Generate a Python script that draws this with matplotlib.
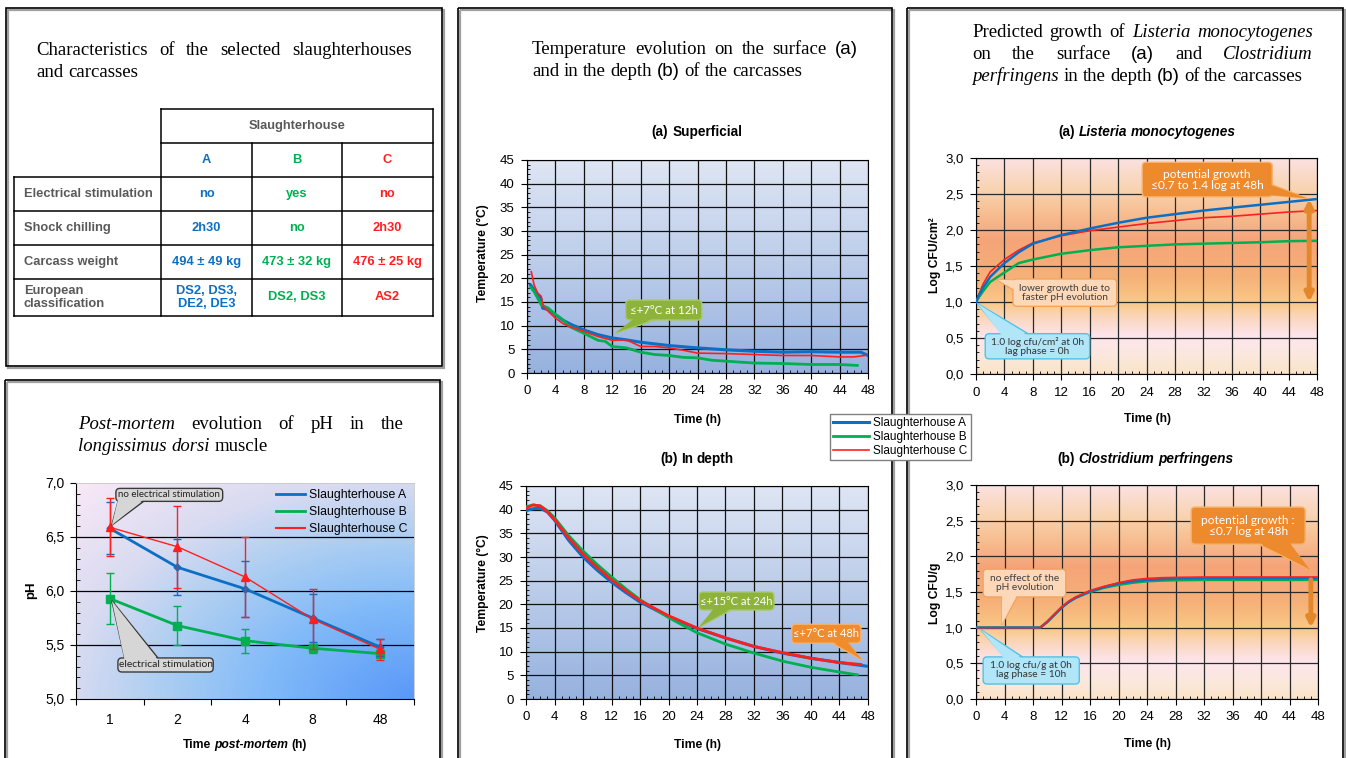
import numpy as np
import matplotlib
matplotlib.use("Agg")
import matplotlib.pyplot as plt
from matplotlib.patches import Rectangle, FancyBboxPatch, Polygon
from matplotlib.lines import Line2D
from matplotlib.colors import LinearSegmentedColormap
from matplotlib.ticker import MultipleLocator, FuncFormatter

plt.rcParams["font.family"] = ["Liberation Sans", "DejaVu Sans"]

W, H = 1346, 758
SERIF = ["Liberation Serif", "DejaVu Serif"]
CALLOUT_FONT = ["Lato", "DejaVu Sans"]

# series names and colours
names = ["Slaughterhouse A", "Slaughterhouse B", "Slaughterhouse C"]
colors = ["#0b6fc4", "#00b050", "#ff1f1f"]

# table of characteristics
table_cols = ["A", "B", "C"]
row_labels = ["Electrical stimulation", "Shock chilling", "Carcass weight", "European\nclassification"]
col_A = ["no", "2h30", "494 ± 49 kg", "DS2, DS3,\nDE2, DE3"]
col_B = ["yes", "no", "473 ± 32 kg", "DS2, DS3"]
col_C = ["no", "2h30", "476 ± 25 kg", "AS2"]

# pH post-mortem
ph_times = ["1", "2", "4", "8", "48"]
ph_A = [6.58, 6.22, 6.02, 5.75, 5.48]
ph_A_err = [0.24, 0.26, 0.26, 0.22, 0.08]
ph_B = [5.93, 5.68, 5.54, 5.47, 5.42]
ph_B_err = [0.24, 0.18, 0.11, 0.04, 0.03]
ph_C = [6.59, 6.41, 6.13, 5.74, 5.46]
ph_C_err = [0.27, 0.38, 0.37, 0.28, 0.10]

# surface temperature (a)
surf_t_A = [0.5, 1, 1.5, 1.9, 2.2, 3, 4, 5, 6.3, 8, 10, 12, 14, 16, 20, 24, 28, 32, 36, 40, 44, 47, 48]
surf_A = [18.6, 17.6, 16.6, 16.0, 13.7, 13.4, 12.3, 11.2, 10.2, 9.1, 8.1, 7.4, 7.0, 6.5, 5.8, 5.3, 4.9, 4.6, 4.4, 4.5, 4.4, 4.4, 3.7]
surf_t_B = [0.5, 1, 2, 3, 4, 5, 6, 8, 10, 11, 12, 14, 16, 18, 20, 22, 24, 26, 28, 32, 36, 40, 44, 46.5]
surf_B = [18.1, 17.2, 14.4, 13.7, 12.4, 11.3, 9.8, 8.4, 6.9, 6.7, 5.6, 5.3, 4.4, 3.9, 3.7, 3.3, 3.2, 2.7, 2.5, 2.1, 2.0, 1.8, 1.8, 1.6]
surf_t_C = [0.6, 1, 1.5, 2, 2.3, 3, 4, 5, 6, 8, 10, 12, 14, 15, 16, 18, 20, 22, 24, 28, 32, 36, 40, 44, 46, 47.5]
surf_C = [21.4, 18.6, 16.9, 16.2, 14.1, 13.0, 11.6, 10.5, 9.8, 8.8, 7.7, 6.9, 7.0, 6.3, 5.6, 5.6, 5.3, 4.8, 4.2, 4.1, 3.9, 3.7, 3.7, 3.4, 3.4, 3.7]

# depth temperature (b)
depth_t_A = [0, 1, 2, 3, 4, 6, 8, 10, 12, 14, 16, 20, 24, 28, 32, 36, 40, 44, 48]
depth_A = [39.8, 40.2, 40.3, 39.5, 37.8, 33.5, 30.0, 27.2, 24.7, 22.5, 20.5, 17.4, 14.9, 12.9, 11.1, 9.7, 8.6, 7.7, 6.9]
depth_t_B = [0, 1, 2, 3, 4, 6, 8, 10, 12, 14, 16, 20, 24, 28, 32, 36, 40, 44, 46.5]
depth_B = [40.6, 41.0, 40.8, 39.8, 38.3, 34.5, 31.3, 28.4, 25.8, 23.3, 21.0, 17.2, 14.0, 11.6, 9.7, 8.0, 6.7, 5.7, 5.1]
depth_t_C = [0, 1, 2, 3, 4, 6, 8, 10, 12, 14, 16, 20, 24, 28, 32, 36, 40, 44, 47]
depth_C = [40.3, 41.0, 40.8, 39.6, 38.0, 34.0, 30.7, 27.8, 25.2, 22.9, 20.8, 17.6, 15.0, 12.9, 11.1, 9.8, 8.6, 7.7, 7.3]

# predicted growth of listeria on the surface (a)
list_t = [0, 0.5, 1, 2, 4, 6, 8, 12, 16, 20, 24, 28, 32, 36, 40, 44, 48]
list_A = [1.0, 1.11, 1.2, 1.35, 1.54, 1.69, 1.81, 1.93, 2.02, 2.10, 2.17, 2.22, 2.27, 2.31, 2.35, 2.39, 2.43]
list_B = [1.0, 1.08, 1.15, 1.28, 1.41, 1.54, 1.59, 1.67, 1.72, 1.76, 1.78, 1.80, 1.81, 1.82, 1.83, 1.845, 1.85]
list_C = [1.0, 1.13, 1.25, 1.42, 1.59, 1.72, 1.82, 1.92, 1.99, 2.04, 2.09, 2.13, 2.17, 2.19, 2.22, 2.25, 2.27]

# predicted growth of clostridium in the depth (b)
clos_t = [0, 9, 10, 11, 12, 13, 14, 16, 18, 20, 22, 24, 26, 28, 32, 40, 48]
clos_A = [1.0, 1.0, 1.08, 1.18, 1.28, 1.36, 1.42, 1.51, 1.57, 1.62, 1.65, 1.67, 1.68, 1.69, 1.695, 1.695, 1.695]
clos_B = [1.0, 1.0, 1.08, 1.18, 1.28, 1.36, 1.42, 1.50, 1.56, 1.60, 1.63, 1.65, 1.66, 1.665, 1.67, 1.67, 1.67]
clos_C = [1.0, 1.0, 1.09, 1.19, 1.29, 1.37, 1.43, 1.52, 1.58, 1.63, 1.67, 1.69, 1.70, 1.705, 1.71, 1.71, 1.71]


fig = plt.figure(figsize=(W / 100, H / 100), dpi=100)

# overlay in pixel coordinates for frames, titles and table
ov = fig.add_axes([0, 0, 1, 1])
ov.set_xlim(0, W)
ov.set_ylim(H, 0)
ov.axis("off")


def px_rect(x0, y0, x1, y1):
    return [x0 / W, 1 - y1 / H, (x1 - x0) / W, (y1 - y0) / H]


def put_words(words, x0, y, x1=None, size=13.5, center=None, color="black", gap=None):
    r = fig.canvas.get_renderer()
    objs = []
    for txt, kw in words:
        objs.append(ov.text(0, y, txt, fontsize=size, va="baseline", ha="left", color=color, **kw))
    widths = [t.get_window_extent(r).width for t in objs]
    if x1 is not None and len(objs) > 1:
        g = (x1 - x0 - sum(widths)) / (len(objs) - 1)
    else:
        g = gap if gap is not None else 0.25 * size * 100 / 72
    if center is not None:
        x0 = center - (sum(widths) + g * (len(objs) - 1)) / 2
    x = x0
    for t, w in zip(objs, widths):
        t.set_x(x)
        x += w + g


def serif_words(text, italic=()):
    out = []
    for i, w in enumerate(text.split()):
        kw = {"family": SERIF}
        if i in italic:
            kw["style"] = "italic"
        if w in ("(a)", "(b)"):
            kw = {"family": ["Liberation Sans"]}
        out.append((w, kw))
    return out


def callout(ax, box, tip, side, f0, f1, text, fc, ec, tc, size):
    x0, y0, x1, y1 = box
    bb = ax.get_position()
    xl, yl = ax.get_xlim(), ax.get_ylim()
    xupp = (xl[1] - xl[0]) / (bb.width * W)
    yupp = (yl[1] - yl[0]) / (bb.height * H)
    if side == "bottom":
        b0, b1 = (x0 + f0 * (x1 - x0), y0), (x0 + f1 * (x1 - x0), y0)
        d = (0, 2 * yupp)
    elif side == "top":
        b0, b1 = (x0 + f0 * (x1 - x0), y1), (x0 + f1 * (x1 - x0), y1)
        d = (0, -2 * yupp)
    elif side == "left":
        b0, b1 = (x0, y0 + f0 * (y1 - y0)), (x0, y0 + f1 * (y1 - y0))
        d = (2 * xupp, 0)
    else:
        b0, b1 = (x1, y0 + f0 * (y1 - y0)), (x1, y0 + f1 * (y1 - y0))
        d = (-2 * xupp, 0)
    ax.add_patch(Polygon([b0, tip, b1], closed=True, fc=fc, ec=ec, lw=1, zorder=6, clip_on=False))
    ax.add_patch(FancyBboxPatch((x0, y0), x1 - x0, y1 - y0,
                                boxstyle=f"round,pad=0,rounding_size={4 * xupp}",
                                mutation_aspect=yupp / xupp, fc=fc, ec=ec, lw=1, zorder=7, clip_on=False))
    ax.add_patch(Polygon([(b0[0] + d[0], b0[1] + d[1]), tip, (b1[0] + d[0], b1[1] + d[1])],
                         closed=True, fc=fc, ec="none", zorder=8, clip_on=False))
    ax.text((x0 + x1) / 2, (y0 + y1) / 2, text, ha="center", va="center", color=tc,
            fontsize=size, family=CALLOUT_FONT, linespacing=1.0, zorder=9)


# panel frames with a soft shadow
panels = [(6, 8, 442, 366), (5, 380, 440, 764), (458, 8, 892, 764), (907, 8, 1343, 764)]
for x0, y0, x1, y1 in panels:
    ov.add_patch(Rectangle((x0 + 2, y0 + 2), x1 - x0, y1 - y0, fill=False, ec="#a0a0a0", lw=1.6))
    ov.add_patch(Rectangle((x0, y0), x1 - x0, y1 - y0, fill=False, ec="black", lw=1.2))

# panel titles
put_words(serif_words("Characteristics of the selected slaughterhouses"), 36, 55, x1=412)
put_words(serif_words("and carcasses"), 36, 77)
put_words(serif_words("Post-mortem evolution of pH in the", italic=(0,)), 78, 429, x1=404)
put_words(serif_words("longissimus dorsi muscle", italic=(0, 1)), 78, 451)
put_words(serif_words("Temperature evolution on the surface (a)"), 532, 54, x1=858)
put_words(serif_words("and in the depth (b) of the carcasses"), 532, 76)
put_words(serif_words("Predicted growth of Listeria monocytogenes", italic=(3, 4)), 972, 37, x1=1313)
put_words(serif_words("on the surface (a) and Clostridium", italic=(5,)), 972, 59, x1=1313)
put_words(serif_words("perfringens in the depth (b) of the carcasses", italic=(0,)), 972, 81)

# table
gray = "#595959"
tab_x = [14, 161, 252, 342, 433]
tab_y = [109, 143, 177, 211, 245, 279, 316]
for yy in tab_y:
    ov.plot([tab_x[0] if yy >= 177 else tab_x[1], tab_x[-1]], [yy, yy], color="black", lw=1.1)
ov.plot([tab_x[0], tab_x[0]], [177, 316], color="black", lw=1.1)
ov.plot([tab_x[1], tab_x[1]], [109, 316], color="black", lw=1.1)
ov.plot([tab_x[-1], tab_x[-1]], [109, 316], color="black", lw=1.1)
for xx in tab_x[2:4]:
    ov.plot([xx, xx], [143, 316], color="black", lw=1.1)
ov.text((tab_x[1] + tab_x[-1]) / 2, 126, "Slaughterhouse", ha="center", va="center",
        fontsize=9.3, weight="bold", color=gray)
for j, lab in enumerate(table_cols):
    ov.text((tab_x[j + 1] + tab_x[j + 2]) / 2, 160, lab, ha="center", va="center",
            fontsize=9.3, weight="bold", color=colors[j])
for i, lab in enumerate(row_labels):
    ov.text(24, (tab_y[i + 2] + tab_y[i + 3]) / 2, lab, ha="left", va="center",
            fontsize=9.3, weight="bold", color=gray, linespacing=1.05)
for j, col in enumerate([col_A, col_B, col_C]):
    for i, v in enumerate(col):
        ov.text((tab_x[j + 1] + tab_x[j + 2]) / 2, (tab_y[i + 2] + tab_y[i + 3]) / 2, v,
                ha="center", va="center", fontsize=9.3, weight="bold", color=colors[j], linespacing=1.05)

comma = FuncFormatter(lambda v, p: f"{v:.1f}".replace(".", ","))

# ---- pH chart
ax = fig.add_axes(px_rect(76, 483, 414, 699))
x = np.arange(1, len(ph_times) + 1)
ax.set_xlim(0.5, len(ph_times) + 0.5)
ax.set_ylim(5.0, 7.0)
ph_cmap = LinearSegmentedColormap.from_list("ph", [(0, "#5a98f8"), (0.3, "#7fb9f9"), (0.52, "#aacdf2"),
                                                   (0.72, "#d8dbf1"), (1.0, "#fae8f6")])
u = np.linspace(0, 1, 300)[None, :]
v = np.linspace(0, 1, 150)[:, None]
dist = np.sqrt((1 - u) ** 2 + v ** 2) / np.sqrt(2)
ax.imshow(ph_cmap(dist), extent=(0.5, len(ph_times) + 0.5, 5.0, 7.0), origin="lower", aspect="auto", zorder=0)
for yy in [5.5, 6.0, 6.5]:
    ax.axhline(yy, color="black", lw=0.9, zorder=1)
ax.errorbar(x, ph_B, yerr=ph_B_err, color=colors[1], lw=2, marker="s", ms=6, capsize=3, elinewidth=1, zorder=3)
ax.errorbar(x, ph_A, yerr=ph_A_err, color=colors[0], lw=2, marker="D", ms=3.5, capsize=3, elinewidth=1, zorder=4)
ax.errorbar(x, ph_C, yerr=ph_C_err, color=colors[2], lw=1, marker="^", ms=6, capsize=3, elinewidth=1, zorder=5)
ax.set_xticks(np.arange(0.5, len(ph_times) + 1, 1))
ax.set_xticklabels([])
ax.set_xticks(x, minor=True)
ax.set_xticklabels(ph_times, minor=True)
ax.tick_params(axis="x", which="major", direction="out", length=4)
ax.tick_params(axis="x", which="minor", length=0, pad=10, labelsize=10)
ax.yaxis.set_major_locator(MultipleLocator(0.5))
ax.yaxis.set_minor_locator(MultipleLocator(0.1))
ax.yaxis.set_major_formatter(comma)
ax.tick_params(axis="y", which="major", direction="out", length=4, labelsize=10, pad=4)
ax.tick_params(axis="y", which="minor", direction="in", length=3)
for s in ["top", "right"]:
    ax.spines[s].set_color("#c8c8c8")
    ax.spines[s].set_linewidth(0.6)
ax.legend([Line2D([], [], color=c, lw=lw) for c, lw in zip(colors, [2, 2, 1.5])], names,
          loc="upper right", frameon=False, fontsize=8.8, labelspacing=0.4, handlelength=2.3,
          handletextpad=0.4, borderaxespad=0.1)
callout(ax, (1.09, 6.83, 2.67, 6.95), (1.03, 6.61), "bottom", 0.02, 0.26,
        "no electrical stimulation", "#d6d6d6", "#3a3a3a", "#222222", 7)
callout(ax, (1.12, 5.25, 2.53, 5.38), (1.03, 5.91), "top", 0.07, 0.42,
        "electrical stimulation", "#d6d6d6", "#3a3a3a", "#222222", 7.5)
ov.text(31, 590, "pH", rotation=90, ha="center", va="center", fontsize=9.5, weight="bold")
put_words([("Time", {"weight": "bold"}), ("post-mortem", {"weight": "bold", "style": "italic"}),
           ("(h)", {"weight": "bold"})], 0, 748, size=8.7, center=245, gap=3.3)

# ---- temperature charts
temp_cmap = LinearSegmentedColormap.from_list("tmp", ["#97b2df", "#dfe6f4"])


def temp_axes(rect):
    a = fig.add_axes(px_rect(*rect))
    a.imshow(np.linspace(0, 1, 256).reshape(-1, 1), extent=(0, 48, 0, 45), origin="lower",
             cmap=temp_cmap, aspect="auto", zorder=0)
    a.set_xlim(0, 48)
    a.set_ylim(0, 45)
    a.xaxis.set_major_locator(MultipleLocator(4))
    a.xaxis.set_minor_locator(MultipleLocator(1))
    a.yaxis.set_major_locator(MultipleLocator(5))
    a.yaxis.set_minor_locator(MultipleLocator(1))
    a.grid(True, which="major", color="#111111", lw=0.9)
    a.tick_params(which="major", direction="out", length=4, labelsize=9.5, pad=5)
    a.tick_params(which="minor", direction="in", length=2.5)
    for s in a.spines.values():
        s.set_color("black")
    return a


ta = temp_axes((527, 160, 868, 373))
la, = ta.plot(surf_t_A, surf_A, color=colors[0], lw=2.2, zorder=3)
lb, = ta.plot(surf_t_B, surf_B, color=colors[1], lw=2, zorder=4)
lc, = ta.plot(surf_t_C, surf_C, color=colors[2], lw=1.2, zorder=5)
callout(ta, (13.9, 11.2, 24.6, 15.4), (12.4, 8.4), "bottom", 0.12, 0.38,
        "≤+7°C at 12h", "#8eb33b", "#a9c76a", "white", 8.3)

tb = temp_axes((526, 486, 868, 699))
tb.plot(depth_t_A, depth_A, color=colors[0], lw=2.2, zorder=3)
tb.plot(depth_t_B, depth_B, color=colors[1], lw=2, zorder=4)
tb.plot(depth_t_C, depth_C, color=colors[2], lw=2, zorder=5)
callout(tb, (24.3, 18.8, 34.8, 22.6), (24.3, 15.2), "bottom", 0.2, 0.43,
        "≤+15°C at 24h", "#8eb33b", "#a9c76a", "white", 8)
callout(tb, (37.3, 11.8, 47.0, 15.8), (47.2, 8.2), "bottom", 0.58, 0.8,
        "≤+7°C at 48h", "#f08c2c", "#f7b26b", "white", 8)

for yc in (253, 583):
    ov.text(483, yc, "Temperature (°C)", rotation=90, ha="center", va="center", fontsize=8.7, weight="bold")
for yc in (420, 745):
    ov.text(697, yc, "Time (h)", ha="center", va="center", fontsize=8.7, weight="bold")
put_words([("(a)", {"weight": "bold"}), ("Superficial", {"weight": "bold"})], 0, 136, size=9.8, center=697, gap=3.8)
put_words([("(b)", {"weight": "bold"}), ("In", {"weight": "bold"}), ("depth", {"weight": "bold"})],
          0, 463, size=9.8, center=697, gap=3.8)

# shared legend in the middle
fig.legend([la, lb, lc], names, loc="center", bbox_to_anchor=(900.5 / W, 1 - 437 / H), fontsize=8.5,
           frameon=True, fancybox=False, edgecolor="#808080", framealpha=1, borderpad=0.3,
           labelspacing=0.15, handlelength=3, handletextpad=0.4)

# ---- growth charts
grow_cmap = LinearSegmentedColormap.from_list("grow", [
    (0.0, "#fae3c8"), (0.07, "#fbe8da"), (0.17, "#fde6ee"), (0.25, "#fbd8c4"), (0.33, "#f9c987"),
    (0.45, "#f6b178"), (0.62, "#f5a479"), (0.75, "#f7bf92"), (0.86, "#f9d4b2"), (1.0, "#fbe1e1")])


def growth_axes(rect):
    a = fig.add_axes(px_rect(*rect))
    a.imshow(np.linspace(0, 1, 256).reshape(-1, 1), extent=(0, 48, 0, 3), origin="lower",
             cmap=grow_cmap, aspect="auto", zorder=0)
    a.set_xlim(0, 48)
    a.set_ylim(0, 3)
    a.xaxis.set_major_locator(MultipleLocator(4))
    a.xaxis.set_minor_locator(MultipleLocator(1))
    a.yaxis.set_major_locator(MultipleLocator(0.5))
    a.yaxis.set_minor_locator(MultipleLocator(0.1))
    a.yaxis.set_major_formatter(comma)
    a.grid(True, which="major", color="#2a2a2a", lw=0.9)
    a.tick_params(which="major", direction="out", length=4, labelsize=9.5, pad=5)
    a.tick_params(which="minor", direction="in", length=2.5)
    return a


ga = growth_axes((976, 158, 1317, 374))
ga.plot(list_t, list_B, color=colors[1], lw=1.8, zorder=3)
ga.plot(list_t, list_C, color=colors[2], lw=1.2, zorder=4)
ga.plot(list_t, list_A, color=colors[0], lw=1.8, zorder=5)
callout(ga, (23.4, 2.46, 41.7, 2.94), (46.6, 2.44), "right", 0.05, 0.35,
        "potential growth\n≤0.7 to 1.4 log at 48h", "#ee8a2e", "#f7b26b", "white", 8.6)
callout(ga, (5.2, 0.94, 19.8, 1.32), (3.0, 1.31), "left", 0.6, 0.95,
        "lower growth due to\nfaster pH evolution", "#fcd8b8", "#f3a35c", "#404040", 7.3)
callout(ga, (1.3, 0.21, 16.0, 0.56), (0.2, 0.98), "top", 0.16, 0.41,
        "1.0 log cfu/cm² at 0h\nlag phase = 0h", "#b0e6f7", "#4fc3e6", "#333333", 7.3)
ga.annotate("", xy=(46.9, list_A[-1]), xytext=(46.9, list_A[0]),
            arrowprops=dict(arrowstyle="<|-|>", color="#e3872a", lw=3.5, mutation_scale=12,
                            shrinkA=0, shrinkB=0), zorder=6)

gb = growth_axes((976, 485, 1318, 699))
gb.plot(clos_t, clos_B, color=colors[1], lw=1.8, zorder=3)
gb.plot(clos_t, clos_A, color=colors[0], lw=1.8, zorder=4)
gb.plot(clos_t, clos_C, color=colors[2], lw=1.2, zorder=5)
callout(gb, (30.2, 2.17, 46.2, 2.69), (46.9, 1.81), "bottom", 0.59, 0.86,
        "potential growth :\n≤0.7 log at 48h", "#ee8a2e", "#f7b26b", "white", 8.6)
callout(gb, (1.0, 1.43, 12.6, 1.82), (3.6, 1.04), "bottom", 0.23, 0.41,
        "no effect of the\npH evolution", "#fcd8b8", "#f3a35c", "#404040", 7.3)
callout(gb, (1.0, 0.21, 14.5, 0.59), (0.7, 0.97), "top", 0.22, 0.41,
        "1.0 log cfu/g at 0h\nlag phase = 10h", "#b0e6f7", "#4fc3e6", "#333333", 7.3)
gb.annotate("", xy=(47, clos_B[0]), xytext=(47, clos_B[-1]),
            arrowprops=dict(arrowstyle="-|>", color="#e3872a", lw=3.5, mutation_scale=12,
                            shrinkA=0, shrinkB=0), zorder=6)

ov.text(935, 255, "Log CFU/cm²", rotation=90, ha="center", va="center", fontsize=8.7, weight="bold")
ov.text(935, 593, "Log CFU/g", rotation=90, ha="center", va="center", fontsize=8.7, weight="bold")
for yc in (419, 744):
    ov.text(1147, yc, "Time (h)", ha="center", va="center", fontsize=8.7, weight="bold")
put_words([("(a)", {"weight": "bold"}), ("Listeria", {"weight": "bold", "style": "italic"}),
           ("monocytogenes", {"weight": "bold", "style": "italic"})], 0, 136, size=9.8, center=1147, gap=3.8)
put_words([("(b)", {"weight": "bold"}), ("Clostridium", {"weight": "bold", "style": "italic"}),
           ("perfringens", {"weight": "bold", "style": "italic"})], 0, 463, size=9.8, center=1145, gap=3.8)

fig.savefig("out.png", dpi=100)
